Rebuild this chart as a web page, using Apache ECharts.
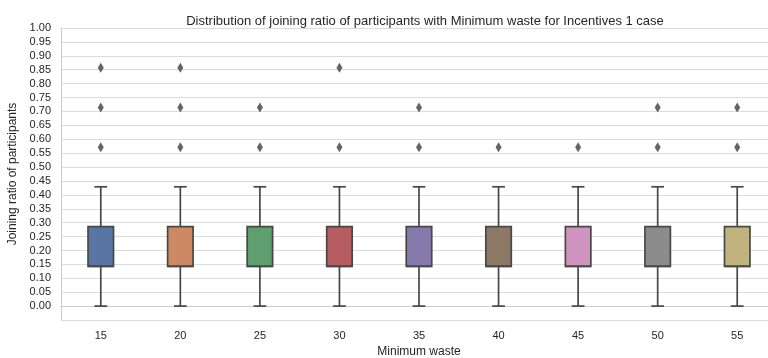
<!DOCTYPE html>
<html>
<head>
<meta charset="utf-8">
<script src="https://cdn.jsdelivr.net/npm/echarts@6/dist/echarts.min.js"></script>
<style>html,body{margin:0;padding:0;background:#fff}#c{width:768px;height:358px}</style>
</head>
<body>
<div id="c"></div>
<script>
const categories = ['15','20','25','30','35','40','45','50','55'];
const whiskerLow  = [0, 0, 0, 0, 0, 0, 0, 0, 0];
const q1          = [0.143, 0.143, 0.143, 0.143, 0.143, 0.143, 0.143, 0.143, 0.143];
const median      = [0.143, 0.143, 0.143, 0.143, 0.143, 0.143, 0.143, 0.143, 0.143];
const q3          = [0.286, 0.286, 0.286, 0.286, 0.286, 0.286, 0.286, 0.286, 0.286];
const whiskerHigh = [0.429, 0.429, 0.429, 0.429, 0.429, 0.429, 0.429, 0.429, 0.429];
const outliers = [
  [0.571, 0.714, 0.857],
  [0.571, 0.714, 0.857],
  [0.571, 0.714],
  [0.571, 0.857],
  [0.571, 0.714],
  [0.571],
  [0.571],
  [0.571, 0.714],
  [0.571, 0.714]
];
const yTicks = ['0.00','0.05','0.10','0.15','0.20','0.25','0.30','0.35','0.40','0.45','0.50','0.55','0.60','0.65','0.70','0.75','0.80','0.85','0.90','0.95','1.00'];
const colors = ['#5975a4','#cc8963','#5f9e6e','#b55d60','#857aab','#8d7866','#d095bf','#8c8c8c','#c1b37f'];

const boxData = categories.map((c, i) => [i, whiskerLow[i], q1[i], median[i], q3[i], whiskerHigh[i]]);
const outlierData = [];
outliers.forEach((arr, i) => arr.forEach(v => outlierData.push([i, v])));

const lineColor = '#474747';
const chart = echarts.init(document.getElementById('c'));
chart.setOption({
  animation: false,
  textStyle: { fontFamily: 'Liberation Sans, Arial, sans-serif' },
  title: {
    text: 'Distribution of joining ratio of participants with Minimum waste for Incentives 1 case',
    left: 420, top: 10, textAlign: 'center',
    textStyle: { fontSize: 13, fontWeight: 'normal', color: '#262626', fontFamily: 'Liberation Sans, Arial, sans-serif' }
  },
  grid: { left: 61, top: 28, width: 716, height: 292, containLabel: false, outerBoundsMode: 'none' },
  xAxis: {
    type: 'category', data: categories, boundaryGap: true,
    name: 'Minimum waste', nameLocation: 'middle', nameGap: 23,
    nameTextStyle: { fontSize: 12, color: '#262626' },
    axisTick: { show: false },
    axisLine: { lineStyle: { color: '#cccccc', width: 1 } },
    axisLabel: { fontSize: 11, color: '#262626', margin: 10 },
    splitLine: { show: false }
  },
  yAxis: {
    type: 'value', min: -0.05, max: 1, interval: 0.05,
    name: 'Joining ratio of participants', nameLocation: 'middle', nameGap: 34, nameRotate: 90,
    nameTextStyle: { fontSize: 12, color: '#262626' },
    axisTick: { show: false },
    axisLine: { show: true, lineStyle: { color: '#cccccc', width: 1 } },
    axisLabel: {
      fontSize: 11, color: '#262626', margin: 10,
      formatter: v => { const i = Math.round(v / 0.05); return (i >= 0 && i < yTicks.length) ? yTicks[i] : ''; }
    },
    splitLine: { show: true, lineStyle: { color: '#dcdcdc', width: 1 } }
  },
  series: [
    {
      type: 'custom',
      data: boxData,
      encode: { x: 0, y: [1, 2, 3, 4, 5] },
      z: 3,
      renderItem: function (params, api) {
        const i = api.value(0);
        const band = api.size([1, 0])[0];
        const bw = band * 0.32;
        const cw = bw / 2;
        const pLow = api.coord([i, api.value(1)]);
        const pQ1 = api.coord([i, api.value(2)]);
        const pMed = api.coord([i, api.value(3)]);
        const pQ3 = api.coord([i, api.value(4)]);
        const pHigh = api.coord([i, api.value(5)]);
        const x = pLow[0];
        const ls = { stroke: lineColor, lineWidth: 1.7 };
        return {
          type: 'group',
          children: [
            { type: 'line', shape: { x1: x, y1: pLow[1], x2: x, y2: pQ1[1] }, style: ls },
            { type: 'line', shape: { x1: x, y1: pQ3[1], x2: x, y2: pHigh[1] }, style: ls },
            { type: 'line', shape: { x1: x - cw / 2, y1: pLow[1], x2: x + cw / 2, y2: pLow[1] }, style: ls },
            { type: 'line', shape: { x1: x - cw / 2, y1: pHigh[1], x2: x + cw / 2, y2: pHigh[1] }, style: ls },
            { type: 'rect', shape: { x: x - bw / 2, y: pQ3[1], width: bw, height: pQ1[1] - pQ3[1] },
              style: { fill: colors[i], stroke: lineColor, lineWidth: 1.7 } },
            { type: 'line', shape: { x1: x - bw / 2, y1: pMed[1], x2: x + bw / 2, y2: pMed[1] }, style: ls }
          ]
        };
      }
    },
    {
      type: 'scatter',
      data: outlierData,
      symbol: 'diamond',
      symbolSize: [6, 10],
      itemStyle: { color: '#3d3d3d' },
      z: 4
    }
  ]
});
</script>
</body>
</html>
